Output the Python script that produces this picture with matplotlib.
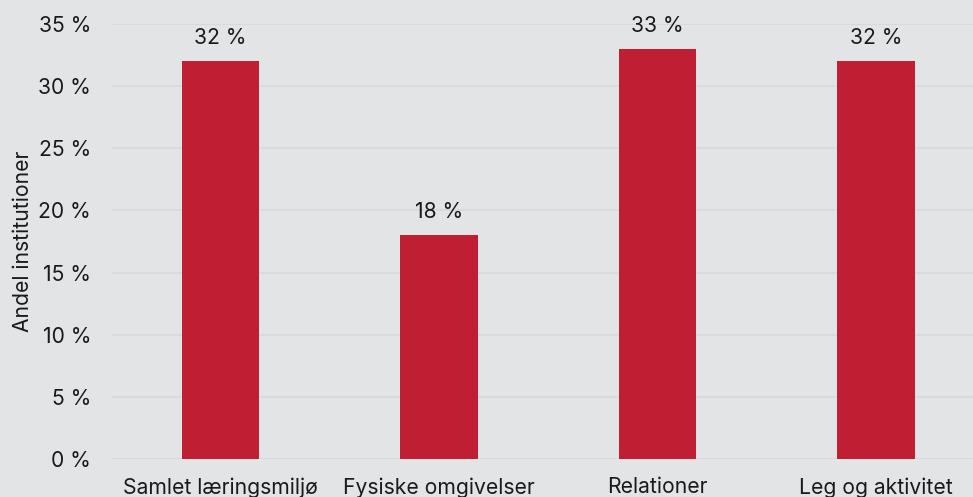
import numpy as np
import matplotlib
matplotlib.use("Agg")
from matplotlib import pyplot as plt

categories = ["Samlet læringsmiljø", "Fysiske omgivelser", "Relationer", "Leg og aktivitet"]
values = [32, 18, 33, 32]
yticks = [0, 5, 10, 15, 20, 25, 30, 35]

bg = "#e3e4e6"
bar_color = "#c01e32"

plt.rcParams['font.family'] = ['Inter', 'DejaVu Sans']


def main():
    fig = plt.figure(figsize=(9.73, 4.97), dpi=100, facecolor=bg)
    ax = fig.add_axes([112 / 973, 1 - 459 / 497, 1 - 112 / 973, 435 / 497])
    ax.set_facecolor(bg)

    fs = 15.2
    x = np.arange(len(categories))
    bars = ax.bar(x, values, width=0.355, color=bar_color, zorder=3)
    for b, v in zip(bars, values):
        ax.annotate(f"{v} %", (b.get_x() + b.get_width() / 2, v), xytext=(0, 9.5),
                    textcoords="offset points", ha="center", va="bottom",
                    fontsize=fs, color="#1a1a1a")

    ax.set_ylim(0, 35)
    ax.set_xlim(-0.497, 3.444)
    ax.set_yticks(yticks)
    ax.set_yticklabels([f"{t} %" for t in yticks])
    ax.set_xticks(x)
    ax.set_xticklabels(categories)
    ax.tick_params(axis="both", length=0, labelsize=fs, colors="#1a1a1a")
    ax.tick_params(axis="y", pad=15)
    ax.tick_params(axis="x", pad=13)
    ax.grid(axis="y", color="#d6d7da", linewidth=1.1, zorder=0)
    for s in ax.spines.values():
        s.set_visible(False)
    ax.set_ylabel("Andel institutioner", fontsize=fs, color="#1a1a1a", labelpad=4)

    fig.savefig("out.png", dpi=100, facecolor=bg)


if __name__ == '__main__':
    main()
